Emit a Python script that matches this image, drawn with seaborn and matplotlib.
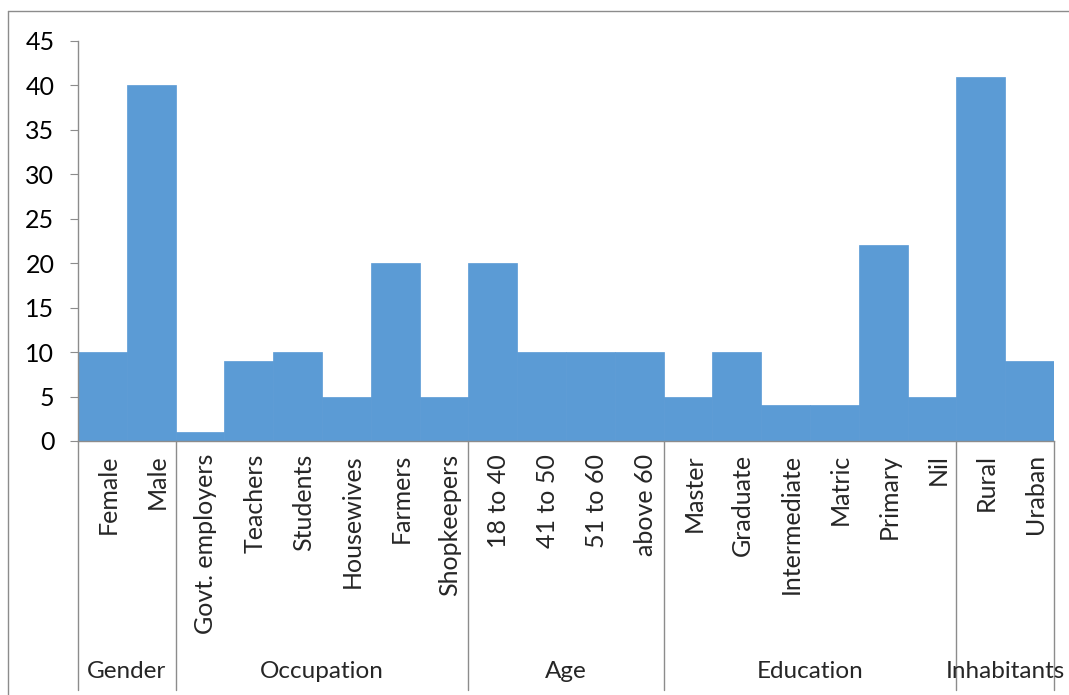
import matplotlib
matplotlib.use("Agg")
import matplotlib.pyplot as plt
import matplotlib.transforms as mtransforms
from matplotlib.lines import Line2D
import pandas as pd
import seaborn as sns

# Data
categories = ["Female", "Male",
              "Govt. employers", "Teachers", "Students", "Housewives", "Farmers", "Shopkeepers",
              "18 to 40", "41 to 50", "51 to 60", "above 60",
              "Master", "Graduate", "Intermediate", "Matric", "Primary", "Nil",
              "Rural", "Uraban"]
values = [10, 40,
          1, 9, 10, 5, 20, 5,
          20, 10, 10, 10,
          5, 10, 4, 4, 22, 5,
          41, 9]
groups = ["Gender", "Occupation", "Age", "Education", "Inhabitants"]
group_sizes = [2, 6, 4, 6, 2]

df = pd.DataFrame({"category": categories, "value": values})

sns.set_style("white")
plt.rcParams["font.family"] = ["Lato", "DejaVu Sans"]

W, H = 1069, 695
fig = plt.figure(figsize=(W / 100, H / 100), dpi=100)
ax = fig.add_axes([78 / W, (H - 441) / H, (1054 - 78) / W, 400 / H])

sns.barplot(data=df, x="category", y="value", color="#5B9BD5", width=1.0,
            saturation=1, edgecolor="#5B9BD5", linewidth=0.5, ax=ax)

ax.set_xlim(-0.5, len(categories) - 0.5)
ax.set_ylim(0, 45)
ax.set_yticks(range(0, 46, 5))
ax.tick_params(axis="y", labelsize=18, length=6, color="#8c8c8c", direction="out",
               left=True, pad=11, labelcolor="black")
ax.set_xticks([])
ax.set_xlabel("")
ax.set_ylabel("")
for side in ["top", "right"]:
    ax.spines[side].set_visible(False)
for side in ["left", "bottom"]:
    ax.spines[side].set_color("#8c8c8c")
    ax.spines[side].set_linewidth(1.0)

# Rotated category labels
trans = mtransforms.blended_transform_factory(ax.transData, fig.transFigure)
for i, name in enumerate(categories):
    fig.text(i + 0.12, (H - 454) / H, name, rotation=90, ha="center", va="top",
             fontsize=18, transform=trans)

# Group labels and separators
start = 0
bounds = [0]
for g, n in zip(groups, group_sizes):
    mid = start + n / 2 - 0.5
    fig.text(mid, (H - 672) / H, g, ha="center", va="center", fontsize=17.5, transform=trans)
    start += n
    bounds.append(start)
for b in bounds:
    fig.add_artist(Line2D([b - 0.5, b - 0.5], [(H - 441) / H, (H - 690) / H],
                          transform=trans, color="#8c8c8c", linewidth=1.0))

# Outer chart frame (top and left edges visible)
fig.add_artist(Line2D([8 / W, 1.0], [(H - 11) / H, (H - 11) / H],
                      transform=fig.transFigure, color="#8c8c8c", linewidth=1.0))
fig.add_artist(Line2D([8 / W, 8 / W], [(H - 11) / H, 0],
                      transform=fig.transFigure, color="#8c8c8c", linewidth=1.0))

fig.savefig("out.png", dpi=100)
